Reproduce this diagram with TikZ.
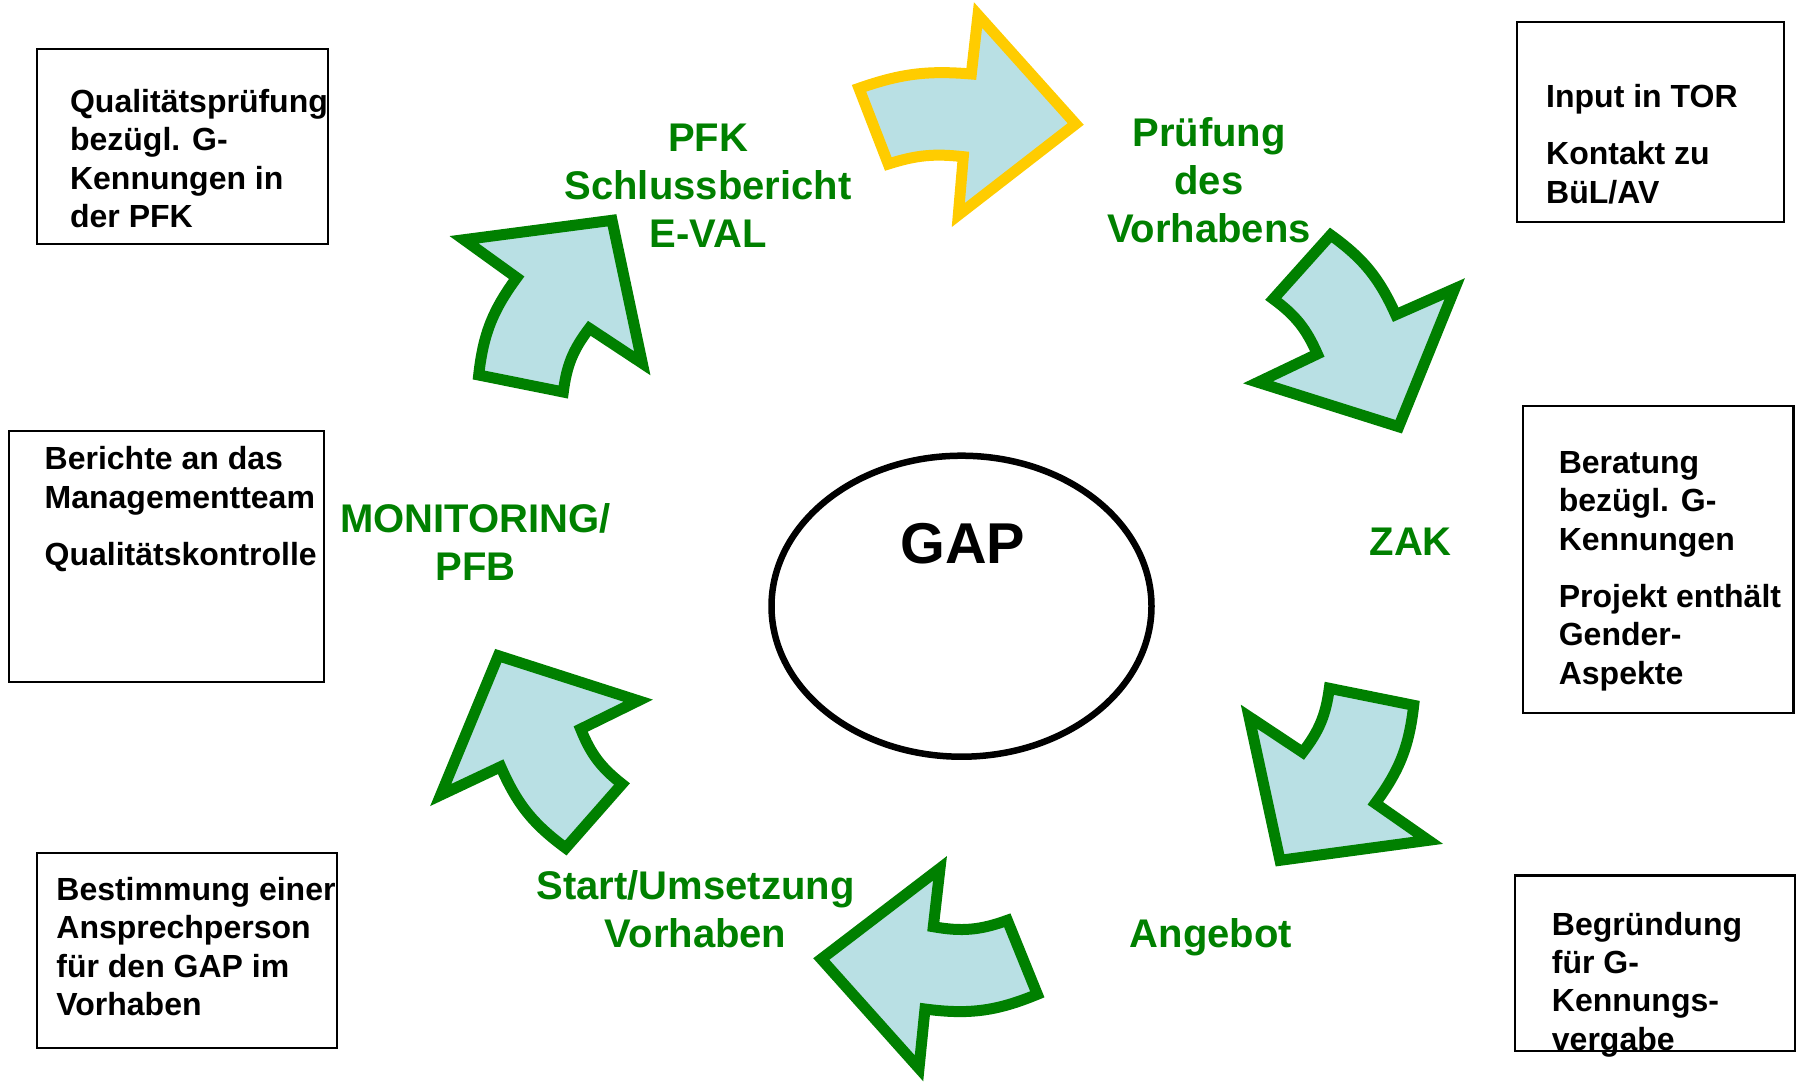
\documentclass[tikz,border=0pt]{standalone}
\usepackage{fontspec}
\setmainfont{Liberation Sans}
\usetikzlibrary{shapes.geometric}
\definecolor{stepgreen}{RGB}{0,128,0}
\definecolor{arrowfill}{RGB}{185,224,228}
\definecolor{arrowgold}{RGB}{255,204,0}

\begin{document}
\begin{tikzpicture}[
  x=1pt,y=-1pt,
  infobox/.style={draw,line width=2.2pt,anchor=north west,inner sep=0pt},
  infotext/.style={anchor=north west,align=left,inner sep=0pt,
    font=\bfseries\fontsize{32}{38.4}\selectfont},
  phase/.style={align=center,inner sep=0pt,text=stepgreen,
    font=\bfseries\fontsize{40}{48}\selectfont},
  blockarrow/.style={draw=stepgreen,fill=arrowfill,line width=11pt,line join=miter},
  ]
  \useasboundingbox (0,0) rectangle (1797,1088);

  \node[draw,ellipse,line width=6.5pt,minimum width=380pt,minimum height=301pt](core) at (961.5,606.2){};
  \node[inner sep=0pt,font=\bfseries\fontsize{57.6}{60}\selectfont](gap) at (962.6,543.2){GAP};

  \draw[blockarrow,draw=arrowgold] (859,88.3) to[bend left=12] (971.3,74) -- (978,15)
    -- (1075.7,124) -- (958.3,215) -- (963.3,156.7) to[bend right=12] (888.3,164) -- cycle;
  \draw[blockarrow] (1330.7,235) to[bend left=15] (1395.7,314.7) -- (1454.7,288.7)
    -- (1398.7,426.7) -- (1258,382.3) -- (1317.3,354) to[bend right=15] (1273.3,299) -- cycle;
  \draw[blockarrow] (1413.7,705.3) to[bend left=15] (1375.3,803.3) -- (1428.3,840.3)
    -- (1280,860.3) -- (1249,716.7) -- (1302.7,752.3) to[bend right=15] (1329.3,688.3) -- cycle;
  \draw[blockarrow] (1007.3,920.3) to[bend left=15] (933.3,926.7) -- (940,868.3)
    -- (821.3,959) -- (919,1068.3) -- (925,1009) to[bend right=15] (1037.3,994.3) -- cycle;
  \draw[blockarrow] (498.3,655.7) -- (638.3,700.7) -- (580.7,729) to[bend right=15] (622,784)
    -- (565.7,848) to[bend left=15] (500.7,766.7) -- (440.7,795) -- cycle;
  \draw[blockarrow] (612,220.3) -- (642.3,363.3) -- (589.3,328.3) to[bend right=15] (563.3,392)
    -- (478.7,375) to[bend left=15] (516.7,277.7) -- (464,239.7) -- cycle;

  \node[phase](pfk) at (708,185.7){PFK\\Schlussbericht\\E-VAL};
  \node[phase](pruefung) at (1209,179.9){Prüfung\\des\\Vorhabens};
  \node[phase](zak) at (1410.7,542){ZAK};
  \node[phase](angebot) at (1211,937.4){Angebot};
  \node[phase](start) at (695.6,908.7){Start/Umsetzung\\Vorhaben};
  \node[phase](monitoring) at (475.6,542){MONITORING/\\PFB};

  \node[infobox,minimum width=291pt,minimum height=195pt](pfkbox) at (35.5,48.1){};
  \node[infotext](pfktext) at (69.9,89){Qualitätsprüfung\\bezügl. G-\\Kennungen in\\der PFK};
  \node[infobox,minimum width=315pt,minimum height=251pt](monbox) at (8,429.8){};
  \node[infotext](montext) at (44.5,446.4){Berichte an das\\Managementteam\\[19pt]Qualitätskontrolle};
  \node[infobox,minimum width=300pt,minimum height=195pt](startbox) at (35.5,851.5){};
  \node[infotext](starttext) at (56.2,877){Bestimmung einer\\Ansprechperson\\für den GAP im\\Vorhaben};
  \node[infobox,minimum width=267pt,minimum height=200.6pt](pruefbox) at (1516.2,20.6){};
  \node[infotext](prueftext) at (1546,84){Input in TOR\\[19pt]Kontakt zu\\BüL/AV};
  \node[infobox,minimum width=270.4pt,minimum height=307.2pt](zakbox) at (1521.9,404.5){};
  \node[infotext](zaktext) at (1558.6,451){Beratung\\bezügl. G-\\Kennungen\\[19pt]Projekt enthält\\Gender-\\Aspekte};
  \node[infobox,minimum width=279.6pt,minimum height=175.3pt](angebotbox) at (1513.9,874.4){};
  \node[infotext](angebottext) at (1551.7,911.7){Begründung\\für G-\\Kennungs-\\vergabe};
\end{tikzpicture}
\end{document}
